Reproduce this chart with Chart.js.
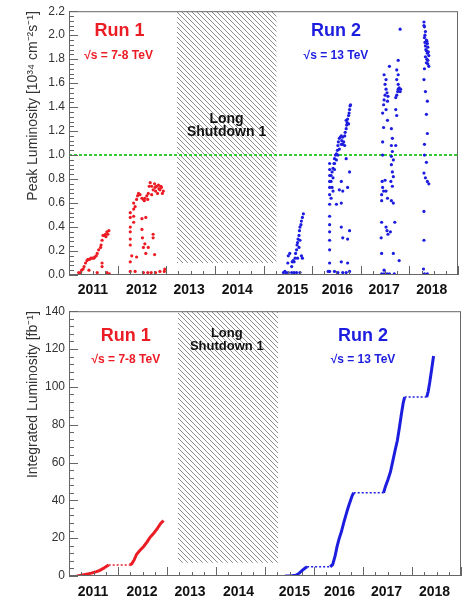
<!DOCTYPE html>
<html>
<head>
<meta charset="utf-8">
<script src="https://cdn.jsdelivr.net/npm/chart.js@4.4.1/dist/chart.umd.min.js"></script>
<style>
  body { margin: 0; background: #fff; }
  canvas { position: absolute; left: 0; }
  #peak { top: 0; }
  #integ { top: 300px; }
</style>
</head>
<body>
<canvas id="peak" width="462" height="300"></canvas>
<canvas id="integ" width="462" height="305"></canvas>
<script>
// x axis runs in years, one label per year
const yearLabels = ['2011', '2012', '2013', '2014', '2015', '2016', '2017', '2018'];
const yearLabelPos = [2011.49, 2012.49, 2013.47, 2014.46, 2015.6, 2016.52, 2017.48, 2018.46];
const xMin = 2011, xMax = 2019;
const peakMax = 2.2, intMax = 140;
const peakRef = 1.0;
const shutdown = [2013.22, 2015.27];
const shutdownFloorPeak = 0.1, shutdownFloorInt = 7;

// peak luminosity per fill [year, 1e34 cm-2 s-1]
const run1Peak = [
  [2011.20,0.02],[2011.24,0.02],[2011.26,0.04],[2011.29,0.05],[2011.31,0.07],[2011.34,0.10],[2011.37,0.12],
  [2011.39,0.13],[2011.42,0.13],[2011.45,0.14],[2011.48,0.14],[2011.51,0.14],[2011.53,0.15],[2011.56,0.16],
  [2011.58,0.18],[2011.61,0.21],[2011.65,0.23],[2011.66,0.25],[2011.68,0.29],[2011.70,0.33],[2011.73,0.33],
  [2011.75,0.34],[2011.76,0.32],[2011.78,0.36],[2011.80,0.34],[2011.82,0.37],
  [2011.68,0.10],[2011.68,0.07],[2011.58,0.02],[2011.78,0.02],[2011.83,0.01],[2011.41,0.04],
  [2012.26,0.52],[2012.26,0.48],[2012.26,0.40],[2012.26,0.36],[2012.26,0.30],[2012.26,0.25],[2012.26,0.11],[2012.26,0.03],
  [2012.33,0.60],[2012.33,0.55],[2012.33,0.49],[2012.33,0.44],[2012.36,0.57],[2012.39,0.63],[2012.41,0.66],
  [2012.43,0.68],[2012.46,0.67],[2012.50,0.64],[2012.53,0.63],[2012.56,0.64],[2012.60,0.66],[2012.63,0.68],
  [2012.65,0.74],[2012.67,0.77],[2012.70,0.74],[2012.73,0.71],[2012.77,0.73],[2012.80,0.74],[2012.84,0.75],
  [2012.87,0.71],[2012.90,0.73],[2012.92,0.68],[2012.94,0.70],[2012.78,0.70],[2012.82,0.68],[2012.85,0.72],
  [2012.70,0.67],[2012.62,0.63],[2012.55,0.62],[2012.89,0.74],[2012.76,0.76],
  [2012.50,0.47],[2012.58,0.48],[2012.50,0.38],[2012.51,0.31],[2012.56,0.26],[2012.53,0.23],[2012.63,0.23],
  [2012.58,0.18],[2012.73,0.34],[2012.73,0.31],[2012.76,0.17],[2012.29,0.16],[2012.39,0.15],[2012.36,0.03],
  [2012.53,0.02],[2012.62,0.02],[2012.69,0.02],[2012.78,0.02],[2012.87,0.03],[2012.97,0.05],[2012.96,0.03]
];
const run2Peak = [
  [2015.41,0.02],[2015.46,0.02],[2015.51,0.02],[2015.58,0.02],[2015.63,0.02],[2015.68,0.02],[2015.75,0.02],
  [2015.44,0.03],[2015.50,0.10],[2015.51,0.16],[2015.54,0.18],[2015.58,0.07],[2015.59,0.11],[2015.61,0.12],
  [2015.63,0.11],[2015.65,0.14],[2015.66,0.18],[2015.68,0.21],[2015.69,0.25],[2015.70,0.27],[2015.71,0.30],
  [2015.73,0.33],[2015.74,0.37],[2015.75,0.40],[2015.77,0.42],[2015.78,0.45],[2015.80,0.48],[2015.82,0.51],
  [2015.73,0.23],[2015.75,0.29],[2015.78,0.16],[2015.80,0.14],[2015.70,0.14],
  [2016.36,0.03],[2016.36,0.10],[2016.36,0.21],[2016.36,0.29],[2016.36,0.36],[2016.36,0.42],[2016.36,0.49],
  [2016.36,0.59],[2016.36,0.67],[2016.36,0.73],[2016.36,0.78],[2016.36,0.83],[2016.36,0.88],[2016.36,0.93],
  [2016.39,0.83],[2016.41,0.86],[2016.43,0.89],[2016.45,0.93],[2016.46,0.97],[2016.48,1.00],[2016.50,1.01],
  [2016.52,1.04],[2016.53,1.08],[2016.54,1.11],[2016.56,1.14],[2016.58,1.15],[2016.60,1.16],[2016.61,1.12],
  [2016.63,1.15],[2016.65,1.11],[2016.67,1.16],[2016.68,1.19],[2016.70,1.22],[2016.71,1.25],[2016.72,1.27],
  [2016.73,1.30],[2016.75,1.33],[2016.76,1.35],[2016.77,1.38],[2016.78,1.41],[2016.79,1.42],[2016.75,1.26],
  [2016.70,1.29],[2016.67,1.08],[2016.63,1.09],[2016.60,1.09],[2016.56,1.05],[2016.53,1.00],[2016.50,0.96],
  [2016.46,0.93],[2016.43,0.81],[2016.39,0.78],[2016.41,0.73],[2016.46,0.88],[2016.43,0.70],[2016.39,0.64],
  [2016.70,0.97],[2016.77,0.86],[2016.60,0.78],[2016.63,0.70],[2016.73,0.73],[2016.56,0.71],[2016.60,0.60],
  [2016.50,0.59],[2016.60,0.40],[2016.63,0.31],[2016.73,0.30],[2016.77,0.37],[2016.60,0.11],[2016.73,0.10],
  [2016.46,0.03],[2016.53,0.02],[2016.63,0.02],[2016.70,0.02],[2016.77,0.03],[2016.33,0.03],
  [2017.43,0.01],[2017.48,0.04],[2017.43,0.18],[2017.42,0.31],[2017.43,0.44],[2017.43,0.62],[2017.43,0.67],
  [2017.45,0.73],[2017.44,0.78],[2017.45,1.00],[2017.45,1.11],[2017.47,1.23],[2017.45,1.35],[2017.47,1.42],
  [2017.48,1.46],[2017.50,1.50],[2017.52,1.55],[2017.50,1.59],[2017.52,1.63],[2017.48,1.67],[2017.52,1.38],
  [2017.55,1.45],[2017.56,1.49],[2017.54,1.52],[2017.59,1.74],[2017.55,1.29],[2017.47,0.70],[2017.52,0.70],
  [2017.50,0.79],[2017.55,0.64],[2017.54,0.37],[2017.56,0.34],[2017.61,0.36],[2017.52,0.40],[2017.48,0.01],
  [2017.54,0.01],[2017.59,0.01],
  [2017.63,1.22],[2017.65,1.14],[2017.63,1.08],[2017.65,1.03],[2017.63,0.99],[2017.67,0.96],[2017.63,0.92],
  [2017.65,0.86],[2017.67,0.82],[2017.62,0.78],[2017.65,0.74],[2017.63,0.62],[2017.67,0.60],[2017.70,0.44],
  [2017.67,0.18],[2017.69,0.01],[2017.72,1.48],[2017.74,1.50],[2017.76,1.53],[2017.77,1.55],[2017.79,1.56],
  [2017.82,1.55],[2017.81,1.53],[2017.77,1.59],[2017.74,1.63],[2017.77,1.67],[2017.74,1.71],[2017.77,1.79],
  [2017.81,2.05],[2017.74,1.33],[2017.72,1.38],[2017.72,1.08],[2017.79,0.12],
  [2018.30,2.11],[2018.31,2.07],[2018.33,2.03],[2018.31,1.98],[2018.35,1.96],[2018.37,1.93],[2018.33,1.91],
  [2018.38,1.90],[2018.35,1.87],[2018.37,1.85],[2018.40,1.83],[2018.33,1.82],[2018.38,1.79],[2018.35,1.77],
  [2018.40,1.74],[2018.31,1.72],[2018.30,1.63],[2018.33,1.53],[2018.37,1.45],[2018.35,1.34],[2018.37,1.18],
  [2018.31,1.09],[2018.31,1.00],[2018.35,0.94],[2018.30,0.85],[2018.33,0.81],[2018.37,0.78],[2018.40,0.76],
  [2018.30,0.53],[2018.30,0.29],[2018.31,0.01],[2018.37,0.01],[2018.29,0.05],[2018.36,1.95],[2018.34,1.88],
  [2018.39,1.86],[2018.32,1.94],[2018.36,1.80],[2018.38,1.76],[2018.30,2.08],[2018.32,2.00]
];

// integrated luminosity [year, fb-1]; flat steps are the winter stops
const run1Int = [
  [2011.16,0],[2011.20,0.2],[2011.36,1.0],[2011.46,1.5],[2011.56,2.3],[2011.63,3.0],[2011.70,4.0],[2011.76,5.0],
  [2011.81,5.8],[2012.24,5.8],[2012.28,6.4],[2012.33,8.5],[2012.38,11.5],[2012.45,13.6],[2012.52,15.5],
  [2012.59,17.9],[2012.65,20.3],[2012.72,22.3],[2012.80,25.0],[2012.87,27.8],[2012.93,29.3]
];
const run2Int = [
  [2015.41,0],[2015.55,0.1],[2015.63,0.4],[2015.70,1.5],[2015.76,3.0],[2015.82,4.2],[2015.86,4.9],
  [2016.33,4.9],[2016.38,6.0],[2016.43,10.5],[2016.47,15.5],[2016.51,19.5],[2016.56,23.5],[2016.61,28.5],
  [2016.66,33.0],[2016.70,36.5],[2016.74,39.5],[2016.78,42.5],[2016.81,44.0],[2017.42,44.0],[2017.46,47.5],
  [2017.51,51.0],[2017.56,55.0],[2017.61,61.0],[2017.66,67.0],[2017.70,71.5],[2017.74,78.0],[2017.78,85.0],
  [2017.82,91.5],[2017.85,94.6],[2018.30,94.6],[2018.33,97.5],[2018.36,102.0],[2018.40,109.0],[2018.44,116.3]
];

const RED = '#ec1c24', BLUE = '#1d1de0', GREEN = '#33cc33';
Chart.defaults.font.family = "'Liberation Sans', Arial, sans-serif";
Chart.defaults.color = '#333';

const pts = arr => arr.map(([x, y]) => ({ x, y }));

function hatch(canvas) {
  const c = document.createElement('canvas');
  c.width = c.height = 5;
  const g = c.getContext('2d');
  g.fillStyle = '#fff';
  g.fillRect(0, 0, 5, 5);
  g.strokeStyle = '#8c8c8c';
  g.lineWidth = 1;
  g.beginPath();
  g.moveTo(-1, -1); g.lineTo(6, 6);
  g.moveTo(-1, 4); g.lineTo(1, 6);
  g.moveTo(4, -1); g.lineTo(6, 1);
  g.stroke();
  return canvas.getContext('2d').createPattern(c, 'repeat');
}

// ROOT-style frame with inward ticks
const frameTicks = {
  id: 'frameTicks',
  afterDatasetsDraw(chart, args, opts) {
    const { ctx, chartArea: a, scales: { x, y } } = chart;
    ctx.save();
    ctx.strokeStyle = '#666';
    ctx.lineWidth = 1;
    ctx.beginPath();
    for (let k = 0; k <= (xMax - xMin) * 4; k++) {
      const px = Math.round(x.getPixelForValue(xMin + k / 4)) + 0.5;
      const len = k % 4 === 0 ? 9 : 4;
      ctx.moveTo(px, a.bottom);
      ctx.lineTo(px, a.bottom - len);
    }
    const minor = opts.step / 5;
    for (let k = 0; k <= Math.round(y.max / minor); k++) {
      const py = Math.round(y.getPixelForValue(k * minor)) + 0.5;
      const len = k % 5 === 0 ? 9 : 5;
      ctx.moveTo(a.left, py);
      ctx.lineTo(a.left + len, py);
    }
    ctx.stroke();
    ctx.strokeRect(a.left + 0.5, a.top + 0.5, a.width - 1, a.height - 1);
    ctx.restore();
  }
};

const notes = {
  id: 'notes',
  afterDatasetsDraw(chart, args, opts) {
    const { ctx, scales: { x, y } } = chart;
    ctx.save();
    ctx.textAlign = 'center';
    ctx.textBaseline = 'middle';
    opts.items.forEach(n => {
      ctx.font = `bold ${n.size}px 'Liberation Sans', Arial, sans-serif`;
      ctx.fillStyle = n.color;
      ctx.fillText(n.text, x.getPixelForValue(n.x), y.getPixelForValue(n.y));
    });
    ctx.restore();
  }
};

function xAxis(height, pad) {
  return {
    type: 'linear', min: xMin, max: xMax,
    grid: { display: false, drawTicks: false },
    border: { display: false },
    afterBuildTicks: s => { s.ticks = yearLabelPos.map(v => ({ value: v })); },
    afterFit: s => { s.height = height; },
    ticks: {
      autoSkip: false, maxRotation: 0, padding: pad, color: '#111',
      font: { size: 14, weight: 'bold' },
      callback: (v, i) => yearLabels[i]
    }
  };
}

function yAxis(max, step, title, fmt) {
  return {
    type: 'linear', min: 0, max,
    grid: { display: false, drawTicks: false },
    border: { display: false },
    afterFit: s => { s.width = 69; },
    ticks: { stepSize: step, padding: 4, color: '#333', font: { size: 12 }, callback: fmt },
    title: {
      display: true, text: title, align: 'end', color: '#333',
      padding: { top: 25, bottom: 0 }, font: { size: 14 }
    }
  };
}

const common = {
  responsive: false,
  animation: false,
  events: [],
  plugins: { legend: { display: false }, tooltip: { enabled: false } }
};

const peakCanvas = document.getElementById('peak');
new Chart(peakCanvas, {
  type: 'scatter',
  data: {
    datasets: [
      { data: pts(run1Peak), backgroundColor: RED, pointRadius: 1.6, borderWidth: 0, order: 1 },
      { data: pts(run2Peak), backgroundColor: BLUE, pointRadius: 1.6, borderWidth: 0, order: 1 },
      { type: 'line', data: [{ x: xMin, y: peakRef }, { x: xMax, y: peakRef }], borderColor: GREEN,
        borderDash: [3, 2], borderWidth: 2, pointRadius: 0, order: 2 },
      { type: 'line', data: shutdown.map(v => ({ x: v, y: peakMax })), fill: { value: shutdownFloorPeak },
        backgroundColor: hatch(peakCanvas), borderWidth: 0, pointRadius: 0, order: 3 }
    ]
  },
  options: {
    ...common,
    layout: { padding: { left: 0, right: 2, top: 7, bottom: 0 } },
    scales: {
      x: xAxis(25, 7),
      y: yAxis(peakMax, 0.2, 'Peak Luminosity [10\u00b3\u2074 cm\u207b\u00b2s\u207b\u00b9]', v => v.toFixed(1))
    },
    plugins: {
      ...common.plugins,
      frameTicks: { step: 0.2 },
      notes: { items: [
        { text: 'Run 1', x: 2012.04, y: 2.036, size: 18, color: RED },
        { text: '\u221as = 7-8 TeV', x: 2012.02, y: 1.83, size: 12, color: RED },
        { text: 'Long', x: 2014.24, y: 1.30, size: 14, color: '#111' },
        { text: 'Shutdown 1', x: 2014.24, y: 1.19, size: 14, color: '#111' },
        { text: 'Run 2', x: 2016.49, y: 2.036, size: 18, color: BLUE },
        { text: '\u221as = 13 TeV', x: 2016.49, y: 1.83, size: 12, color: BLUE }
      ] }
    }
  },
  plugins: [frameTicks, notes]
});

const flat = ctx => ctx.p0.parsed.y === ctx.p1.parsed.y;
const intCanvas = document.getElementById('integ');
new Chart(intCanvas, {
  type: 'line',
  data: {
    datasets: [
      { data: pts(run1Int), borderColor: RED, borderWidth: 3, pointRadius: 0, tension: 0, order: 1,
        segment: { borderDash: c => flat(c) ? [2, 2] : undefined, borderWidth: c => flat(c) ? 1.5 : undefined } },
      { data: pts(run2Int), borderColor: BLUE, borderWidth: 3, pointRadius: 0, tension: 0, order: 1,
        segment: { borderDash: c => flat(c) ? [2, 2] : undefined, borderWidth: c => flat(c) ? 1.5 : undefined } },
      { data: shutdown.map(v => ({ x: v, y: intMax })), fill: { value: shutdownFloorInt },
        backgroundColor: hatch(intCanvas), borderWidth: 0, pointRadius: 0, order: 3 }
    ]
  },
  options: {
    ...common,
    layout: { padding: { left: 0, right: 1, top: 8, bottom: 0 } },
    scales: {
      x: xAxis(29, 8),
      y: yAxis(intMax, 20, 'Integrated Luminosity [fb\u207b\u00b9]', v => String(v))
    },
    plugins: {
      ...common.plugins,
      frameTicks: { step: 20 },
      notes: { items: [
        { text: 'Run 1', x: 2012.16, y: 126.9, size: 18, color: RED },
        { text: '\u221as = 7-8 TeV', x: 2012.16, y: 114.4, size: 12, color: RED },
        { text: 'Long', x: 2014.22, y: 128.4, size: 13, color: '#111' },
        { text: 'Shutdown 1', x: 2014.22, y: 121.6, size: 13, color: '#111' },
        { text: 'Run 2', x: 2017.0, y: 126.9, size: 18, color: BLUE },
        { text: '\u221as = 13 TeV', x: 2017.0, y: 114.4, size: 12, color: BLUE }
      ] }
    }
  },
  plugins: [frameTicks, notes]
});
</script>
</body>
</html>
